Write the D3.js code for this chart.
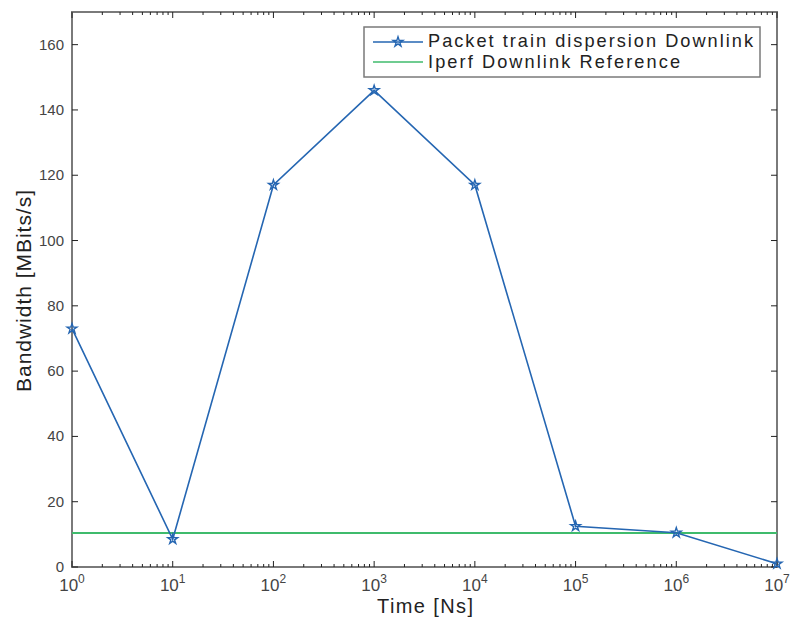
<!DOCTYPE html>
<html><head><meta charset="utf-8">
<script src="https://cdn.jsdelivr.net/npm/d3@7"></script>
<style>body{margin:0;background:#fff;} svg{display:block;font-family:"Liberation Sans",Arial,sans-serif;}</style>
</head><body>
<svg id="c" width="790" height="621"></svg>
<script>
const timeNs = [1, 10, 100, 1000, 10000, 100000, 1000000, 10000000];
const packetTrain = [73, 8.5, 117, 146, 117, 12.5, 10.5, 1];
const iperfRef = [10.4, 10.4];
const yTicks = [0, 20, 40, 60, 80, 100, 120, 140, 160];
const xTickExp = [0, 1, 2, 3, 4, 5, 6, 7];
const seriesNames = ["Packet train dispersion Downlink", "Iperf Downlink Reference"];

const svg = d3.select("#c");
const L = 72, R = 777, T = 12, B = 567;
const x = d3.scaleLog().domain([1, 1e7]).range([L, R]);
const y = d3.scaleLinear().domain([0, 170]).range([B, T]);
const axisCol = "#7a7a7a", tickCol = "#222", labCol = "#444";
const blue = "#2566b2", green = "#3fbb6c";

// frame
svg.append("rect").attr("x", L).attr("y", T).attr("width", R - L).attr("height", B - T)
  .attr("fill", "none").attr("stroke", axisCol).attr("stroke-width", 2);

// x ticks (major + minor, bottom & top, inward)
const g = svg.append("g");
xTickExp.forEach((e, i) => {
  const v = Math.pow(10, e);
  [B, T].forEach(yy => {
    const dir = yy === B ? -1 : 1;
    g.append("line").attr("x1", x(v)).attr("x2", x(v)).attr("y1", yy).attr("y2", yy + dir * 6)
      .attr("stroke", tickCol).attr("stroke-width", 1);
  });
  if (e < 7) {
    for (let m = 2; m <= 9; m++) {
      const mv = m * v;
      [B, T].forEach(yy => {
        const dir = yy === B ? -1 : 1;
        g.append("line").attr("x1", x(mv)).attr("x2", x(mv)).attr("y1", yy).attr("y2", yy + dir * 3)
          .attr("stroke", tickCol).attr("stroke-width", 1);
      });
    }
  }
  const t = svg.append("text").attr("x", x(v)).attr("y", 591).attr("text-anchor", "middle")
    .attr("fill", labCol).attr("font-size", 17);
  t.append("tspan").text("10");
  t.append("tspan").attr("dy", -8).attr("font-size", 12).text(e);
});

// y ticks left & right
yTicks.forEach(v => {
  g.append("line").attr("x1", L).attr("x2", L + 6).attr("y1", y(v)).attr("y2", y(v)).attr("stroke", tickCol);
  g.append("line").attr("x1", R).attr("x2", R - 6).attr("y1", y(v)).attr("y2", y(v)).attr("stroke", tickCol);
  svg.append("text").attr("x", L - 8).attr("y", y(v) + 5).attr("text-anchor", "end")
    .attr("fill", labCol).attr("font-size", 15).text(v);
});

// iperf line
svg.append("line").attr("x1", x(1)).attr("x2", x(1e7)).attr("y1", y(iperfRef[0])).attr("y2", y(iperfRef[1]))
  .attr("stroke", green).attr("stroke-width", 2);

// packet train
const line = d3.line().x((d, i) => x(timeNs[i])).y(d => y(d));
svg.append("path").datum(packetTrain).attr("d", line).attr("fill", "none")
  .attr("stroke", blue).attr("stroke-width", 1.6);
const star = d3.symbol().type(d3.symbolStar).size(30);
svg.selectAll(".pt").data(packetTrain).enter().append("path")
  .attr("transform", (d, i) => `translate(${x(timeNs[i])},${y(d)})`)
  .attr("d", star()).attr("fill", "none").attr("stroke", blue).attr("stroke-width", 1.4);

// axis labels
svg.append("text").attr("x", 425).attr("y", 613).attr("text-anchor", "middle")
  .attr("fill", "#222").attr("font-size", 20).attr("textLength", 96).text("Time [Ns]");
svg.append("text").attr("transform", `translate(31,291) rotate(-90)`).attr("text-anchor", "middle")
  .attr("fill", "#222").attr("font-size", 21).attr("textLength", 202).text("Bandwidth [MBits/s]");

// legend
const lg = svg.append("g");
lg.append("rect").attr("x", 364).attr("y", 27).attr("width", 396).attr("height", 50)
  .attr("fill", "#fff").attr("stroke", axisCol).attr("stroke-width", 1.5);
lg.append("line").attr("x1", 373).attr("x2", 423).attr("y1", 42).attr("y2", 42).attr("stroke", blue).attr("stroke-width", 1.6);
lg.append("path").attr("transform", "translate(398,42)").attr("d", star()).attr("fill", "none").attr("stroke", blue).attr("stroke-width", 1.4);
lg.append("line").attr("x1", 373).attr("x2", 423).attr("y1", 62).attr("y2", 62).attr("stroke", green).attr("stroke-width", 1.6);
const legLen = [325, 252];
seriesNames.forEach((n, i) => {
  lg.append("text").attr("x", 428).attr("y", 47 + i * 20.5).attr("fill", "#222").attr("font-size", 18.2)
    .attr("textLength", legLen[i]).text(n);
});
</script>
</body></html>
